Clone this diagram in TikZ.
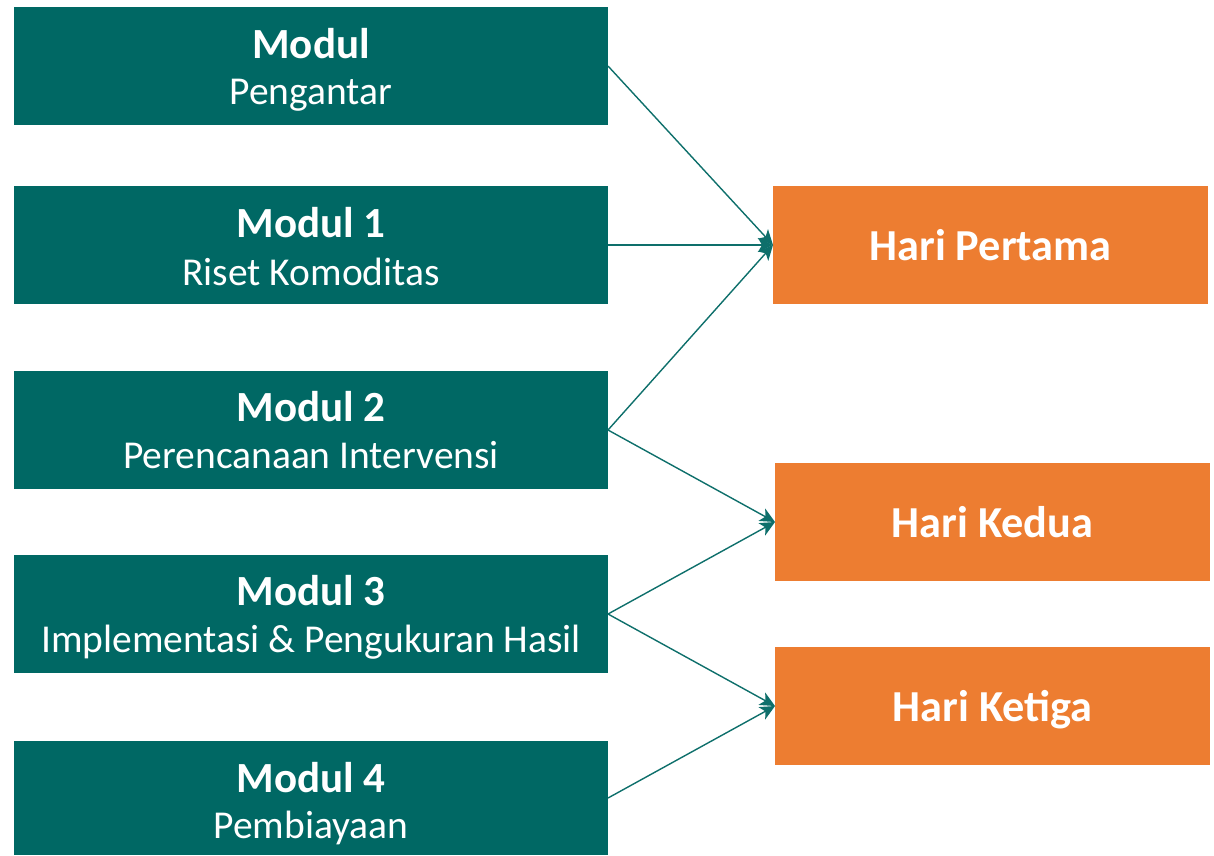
\documentclass[tikz,border=0pt]{standalone}
\usepackage{fontspec}
\setmainfont{Carlito}
\usetikzlibrary{arrows.meta}
\definecolor{teal}{HTML}{006864}
\definecolor{tealline}{HTML}{0E6F6B}
\definecolor{orng}{HTML}{ED7D31}
\tikzset{
  modbox/.style={fill=teal, draw=none, minimum width=594pt, minimum height=118pt, inner sep=0pt, outer sep=0pt},
  daybox/.style={fill=orng, draw=none, minimum width=435pt, minimum height=118pt, inner sep=0pt, outer sep=0pt},
  titletext/.style={text=white, anchor=base, inner sep=0pt, font=\fontsize{43}{50}\selectfont\bfseries},
  subtext/.style={text=white, anchor=base, inner sep=0pt, font=\fontsize{39.5}{46}\selectfont},
  daytext/.style={text=white, anchor=base, inner sep=0pt, font=\fontsize{44.3}{50}\selectfont\bfseries},
  link/.style={draw=tealline, line width=1.4pt, -{Stealth[length=15pt,width=14pt,inset=4pt]}}
}
\begin{document}
\begin{tikzpicture}[x=1pt,y=-1pt]
\useasboundingbox (0,0) rectangle (1214,855);
% module boxes
\node[modbox] (m0) at (311,66) {};
\node[modbox] (m1) at (311,245) {};
\node[modbox] (m2) at (311,430) {};
\node[modbox] (m3) at (311,614) {};
\node[modbox, minimum height=114pt] (m4) at (311,798) {};
\node[titletext] (t0) at (311,58) {Modul};
\node[subtext] (s0) at (311,104) {Pengantar};
\node[titletext] (t1) at (311,237) {Modul 1};
\node[subtext] (s1) at (311,285) {Riset Komoditas};
\node[titletext] (t2) at (311,421) {Modul 2};
\node[subtext] (s2) at (311,468) {Perencanaan Intervensi};
\node[titletext] (t3) at (311,605) {Modul 3};
\node[subtext] (s3) at (311,652) {Implementasi \& Pengukuran Hasil};
\node[titletext] (t4) at (311,792) {Modul 4};
\node[subtext] (s4) at (311,838) {Pembiayaan};
% day boxes
\node[daybox] (d1) at (990.5,245) {};
\node[daybox] (d2) at (992.5,522) {};
\node[daybox] (d3) at (992.5,706) {};
\node[daytext] (e1) at (990.5,260) {Hari Pertama};
\node[daytext] (e2) at (992.5,537) {Hari Kedua};
\node[daytext] (e3) at (992.5,721) {Hari Ketiga};
% connectors
\draw[link] (m0.east) -- (d1.west);
\draw[link] (m1.east) -- (d1.west);
\draw[link] (m2.east) -- (d1.west);
\draw[link] (m2.east) -- (d2.west);
\draw[link] (m3.east) -- (d2.west);
\draw[link] (m3.east) -- (d3.west);
\draw[link] (m4.east) -- (d3.west);
\end{tikzpicture}
\end{document}
